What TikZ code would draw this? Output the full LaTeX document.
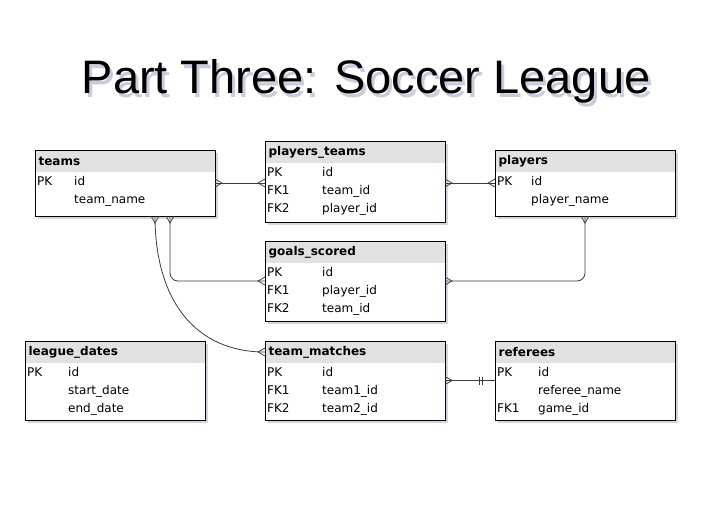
\documentclass[tikz,border=0pt]{standalone}
\usepackage{fontspec}
\setmainfont{DejaVu Sans}
\newfontfamily\socttlfont{Liberation Sans}
\usetikzlibrary{arrows.meta,calc,shadows}
\definecolor{socink}{HTML}{000000}
\definecolor{sochead}{HTML}{E1E1E1}
\definecolor{socshade}{HTML}{9AA3C2}
\definecolor{socwire}{HTML}{3C3C3C}

% crow's foot (many) and double bar (exactly one)
\pgfdeclarearrow{
  name = Many,
  parameters = {\the\pgfarrowlength,\the\pgfarrowwidth},
  setup code = {
    \pgfarrowssettipend{0pt}
    \pgfarrowssetlineend{0pt}
    \pgfarrowssetbackend{-\pgfarrowlength}
    \pgfarrowshullpoint{0pt}{.5\pgfarrowwidth}
    \pgfarrowshullpoint{0pt}{-.5\pgfarrowwidth}
    \pgfarrowshullpoint{-\pgfarrowlength}{0pt}
  },
  drawing code = {
    \pgfsetdash{}{0pt}\pgfsetmiterjoin
    \pgfpathmoveto{\pgfqpoint{0pt}{.5\pgfarrowwidth}}
    \pgfpathlineto{\pgfqpoint{-\pgfarrowlength}{0pt}}
    \pgfpathlineto{\pgfqpoint{0pt}{-.5\pgfarrowwidth}}
    \pgfusepathqstroke
  },
  defaults = {length = 7pt, width = 8pt}
}
\pgfdeclarearrow{
  name = One,
  parameters = {\the\pgfarrowlength,\the\pgfarrowwidth},
  setup code = {
    \pgfarrowssettipend{0pt}
    \pgfarrowssetlineend{0pt}
    \pgfarrowssetbackend{-\pgfarrowlength}
    \pgfarrowshullpoint{0pt}{.5\pgfarrowwidth}
    \pgfarrowshullpoint{0pt}{-.5\pgfarrowwidth}
    \pgfarrowshullpoint{-\pgfarrowlength}{.5\pgfarrowwidth}
    \pgfarrowshullpoint{-\pgfarrowlength}{-.5\pgfarrowwidth}
  },
  drawing code = {
    \pgfsetdash{}{0pt}\pgfsetbuttcap
    \pgfpathmoveto{\pgfqpoint{-\pgfarrowlength}{.5\pgfarrowwidth}}
    \pgfpathlineto{\pgfqpoint{-\pgfarrowlength}{-.5\pgfarrowwidth}}
    \pgfpathmoveto{\pgfpoint{-\pgfarrowlength+3.5pt}{.5\pgfarrowwidth}}
    \pgfpathlineto{\pgfpoint{-\pgfarrowlength+3.5pt}{-.5\pgfarrowwidth}}
    \pgfusepathqstroke
  },
  defaults = {length = 16pt, width = 8pt}
}

\tikzset{
  tbl/.style={draw=socink, line width=0.8pt, fill=white, anchor=north west, minimum width=180pt, inner sep=0pt, outer sep=0pt,
    drop shadow={shadow xshift=2.5pt, shadow yshift=-2.5pt, fill=socshade, opacity=.45}},
  hdr/.style={fill=sochead, anchor=north west, text width=173.2pt, inner xsep=3pt, inner ysep=0pt, minimum height=21.6pt, align=left,
    font=\bfseries\fontsize{12}{14}\selectfont},
  col/.style={anchor=west, inner sep=0pt, text height=8.5pt, text depth=2.5pt, font=\fontsize{12}{14}\selectfont},
  rel/.style={draw=socwire, line width=0.8pt},
  ttl/.style={anchor=base, inner sep=0pt, font=\socttlfont\fontsize{47}{56}\selectfont},
}

\begin{document}
\begin{tikzpicture}[x=1pt,y=-1pt]
  \useasboundingbox (0,0) rectangle (711,511);
  % title with soft shadow
  \node[ttl, text=socshade, opacity=.55] (ttlsh) at (369,97) {Part Three: Soccer League};
  \node[ttl] (title) at (366,93) {Part Three: Soccer League};

  % top row: teams, players_teams, players
  \node[tbl, minimum height=66pt] (teams) at (35,150) {};
  \node[hdr] (teams-h) at ([shift={(.4pt,-.4pt)}]teams.north west) {teams};
  \foreach \k/\f [count=\i] in {PK/id, /team\_name} {
    \node[col] (teams-k\i) at (37,164+18*\i) {\k};
    \node[col] (teams-f\i) at (74,164+18*\i) {\f};
  }
  \node[tbl, minimum height=81pt] (plteams) at (265,141) {};
  \node[hdr] (plteams-h) at ([shift={(.4pt,-.4pt)}]plteams.north west) {players\_teams};
  \foreach \k/\f [count=\i] in {PK/id, FK1/team\_id, FK2/player\_id} {
    \node[col] (plteams-k\i) at (267,155+18*\i) {\k};
    \node[col] (plteams-f\i) at (322,155+18*\i) {\f};
  }
  \node[tbl, minimum height=66pt] (players) at (495,150) {};
  \node[hdr] (players-h) at ([shift={(.4pt,-.4pt)}]players.north west) {players};
  \foreach \k/\f [count=\i] in {PK/id, /player\_name} {
    \node[col] (players-k\i) at (497,164+18*\i) {\k};
    \node[col] (players-f\i) at (531,164+18*\i) {\f};
  }

  % middle: goals_scored
  \node[tbl, minimum height=80pt] (goals) at (265,241) {};
  \node[hdr] (goals-h) at ([shift={(.4pt,-.4pt)}]goals.north west) {goals\_scored};
  \foreach \k/\f [count=\i] in {PK/id, FK1/player\_id, FK2/team\_id} {
    \node[col] (goals-k\i) at (267,255+18*\i) {\k};
    \node[col] (goals-f\i) at (322,255+18*\i) {\f};
  }

  % bottom row: league_dates, team_matches, referees
  \node[tbl, minimum height=79pt] (league) at (25,341) {};
  \node[hdr] (league-h) at ([shift={(.4pt,-.4pt)}]league.north west) {league\_dates};
  \foreach \k/\f [count=\i] in {PK/id, /start\_date, /end\_date} {
    \node[col] (league-k\i) at (27,355+18*\i) {\k};
    \node[col] (league-f\i) at (68,355+18*\i) {\f};
  }
  \node[tbl, minimum height=79pt] (matches) at (265,341) {};
  \node[hdr] (matches-h) at ([shift={(.4pt,-.4pt)}]matches.north west) {team\_matches};
  \foreach \k/\f [count=\i] in {PK/id, FK1/team1\_id, FK2/team2\_id} {
    \node[col] (matches-k\i) at (267,355+18*\i) {\k};
    \node[col] (matches-f\i) at (322,355+18*\i) {\f};
  }
  \node[tbl, minimum height=79pt] (referees) at (495,341) {};
  \node[hdr] (referees-h) at ([shift={(.4pt,-.4pt)}]referees.north west) {referees};
  \foreach \k/\f [count=\i] in {PK/id, /referee\_name, FK1/game\_id} {
    \node[col] (referees-k\i) at (497,355+18*\i) {\k};
    \node[col] (referees-f\i) at (538,355+18*\i) {\f};
  }

  % relationships
  \draw[rel, Many-Many] (teams.east) -- (teams.east -| plteams.west);
  \draw[rel, Many-Many] (players.west -| plteams.east) -- (players.west);
  \draw[rel, Many-Many, rounded corners=8pt] ([xshift=135pt]teams.south west) |- (goals.west);
  \draw[rel, Many-Many, rounded corners=8pt] (goals.east) -| ([xshift=90pt]players.south west);
  \draw[rel, Many-Many] ([xshift=120pt]teams.south west)
    .. controls ([shift={(120pt,-84pt)}]teams.south west) and ([shift={(-70pt,-11pt)}]matches.north west)
    .. ([yshift=-11pt]matches.north west);
  \draw[rel, Many-One] (matches.east) -- (matches.east -| referees.west);
\end{tikzpicture}
\end{document}
